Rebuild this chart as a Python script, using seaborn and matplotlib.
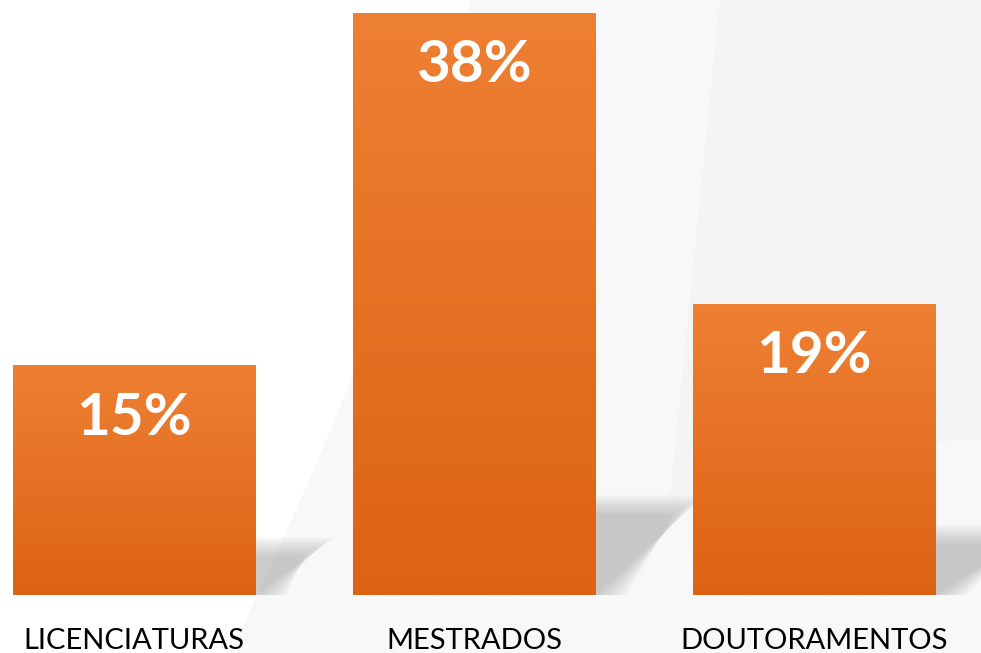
import numpy as np
import pandas as pd
import matplotlib
matplotlib.use("Agg")
import matplotlib.pyplot as plt
import seaborn as sns
from matplotlib.colors import LinearSegmentedColormap
from matplotlib.patches import Polygon

categorias = ["LICENCIATURAS", "MESTRADOS", "DOUTORAMENTOS"]
valores = [15, 38, 19]
etiquetas = ["15%", "38%", "19%"]

df = pd.DataFrame({"grau": categorias, "pct": valores})

sns.set_style("white")
plt.rcParams["font.family"] = ["Lato", "DejaVu Sans"]

fig = plt.figure(figsize=(9.81, 6.53), dpi=100)

# fundo com formas cinzentas suaves (em pixeis da figura)
bg = fig.add_axes([0, 0, 1, 1], zorder=0)
bg.set_xlim(0, 981)
bg.set_ylim(653, 0)
bg.axis("off")
t = np.linspace(0, 1, 40)
borda_esq = np.column_stack([470 - 240 * t ** 1.3, 653 * t])
bg.add_patch(Polygon(np.vstack([borda_esq, [[981, 653], [981, 0]]]), closed=True, color="#f8f8f8", lw=0))
# faixa um pouco mais escura a direita, fechada por uma curva
borda2 = np.column_stack([720 - 50 * t, 500 * t])
curva = np.column_stack([670 + 311 * t, 500 - 60 * np.sin(np.pi * t / 2)])
bg.add_patch(Polygon(np.vstack([borda2, curva, [[981, 0]]]), closed=True, color="#f4f4f4", lw=0))

# sombras das barras
def sombra(x0, x1, y, dx, dy):
    for k in range(14):
        s = k * 2.5
        bg.add_patch(Polygon([(x0 + s, y), (x1 + s, y), (x1 + dx - s, y - dy + s * 0.6), (x0 + dx - s, y - dy + s * 0.6)],
                             closed=True, color="#9a9a9a", alpha=0.045, lw=0))

sombra(120, 255, 595, 80, 58)
sombra(460, 595, 595, 110, 100)
sombra(800, 935, 595, 110, 70)

ax = fig.add_axes([0, 58 / 653, 1, 582 / 653], zorder=1)
ax.patch.set_alpha(0)
sns.barplot(data=df, x="grau", y="pct", ax=ax, color="#e8742a", width=0.712, saturation=1)

# gradiente laranja em cada barra
cmap = LinearSegmentedColormap.from_list("lar", ["#dd6214", "#ee8033"])
grad = np.linspace(0, 1, 256).reshape(-1, 1)
for barra in ax.patches:
    x0, y0 = barra.get_x(), barra.get_y()
    w, h = barra.get_width(), barra.get_height()
    im = ax.imshow(grad, cmap=cmap, aspect="auto", origin="lower",
                   extent=[x0, x0 + w, y0, y0 + h], zorder=2)
    im.set_clip_path(barra)
    barra.set_edgecolor("none")

for i, v in enumerate(valores):
    ax.text(i, v - 3.46, etiquetas[i], ha="center", va="center", color="white",
            fontsize=42, fontweight="bold", zorder=3)

ax.set_xlim(-134 / 340, (981 - 134) / 340)
ax.set_ylim(0, 38)
ax.set_xlabel("")
ax.set_ylabel("")
ax.set_yticks([])
ax.tick_params(axis="x", length=0, pad=24, labelsize=21, labelcolor="black")
sns.despine(ax=ax, left=True, bottom=True)

fig.savefig("out.png", dpi=100)
